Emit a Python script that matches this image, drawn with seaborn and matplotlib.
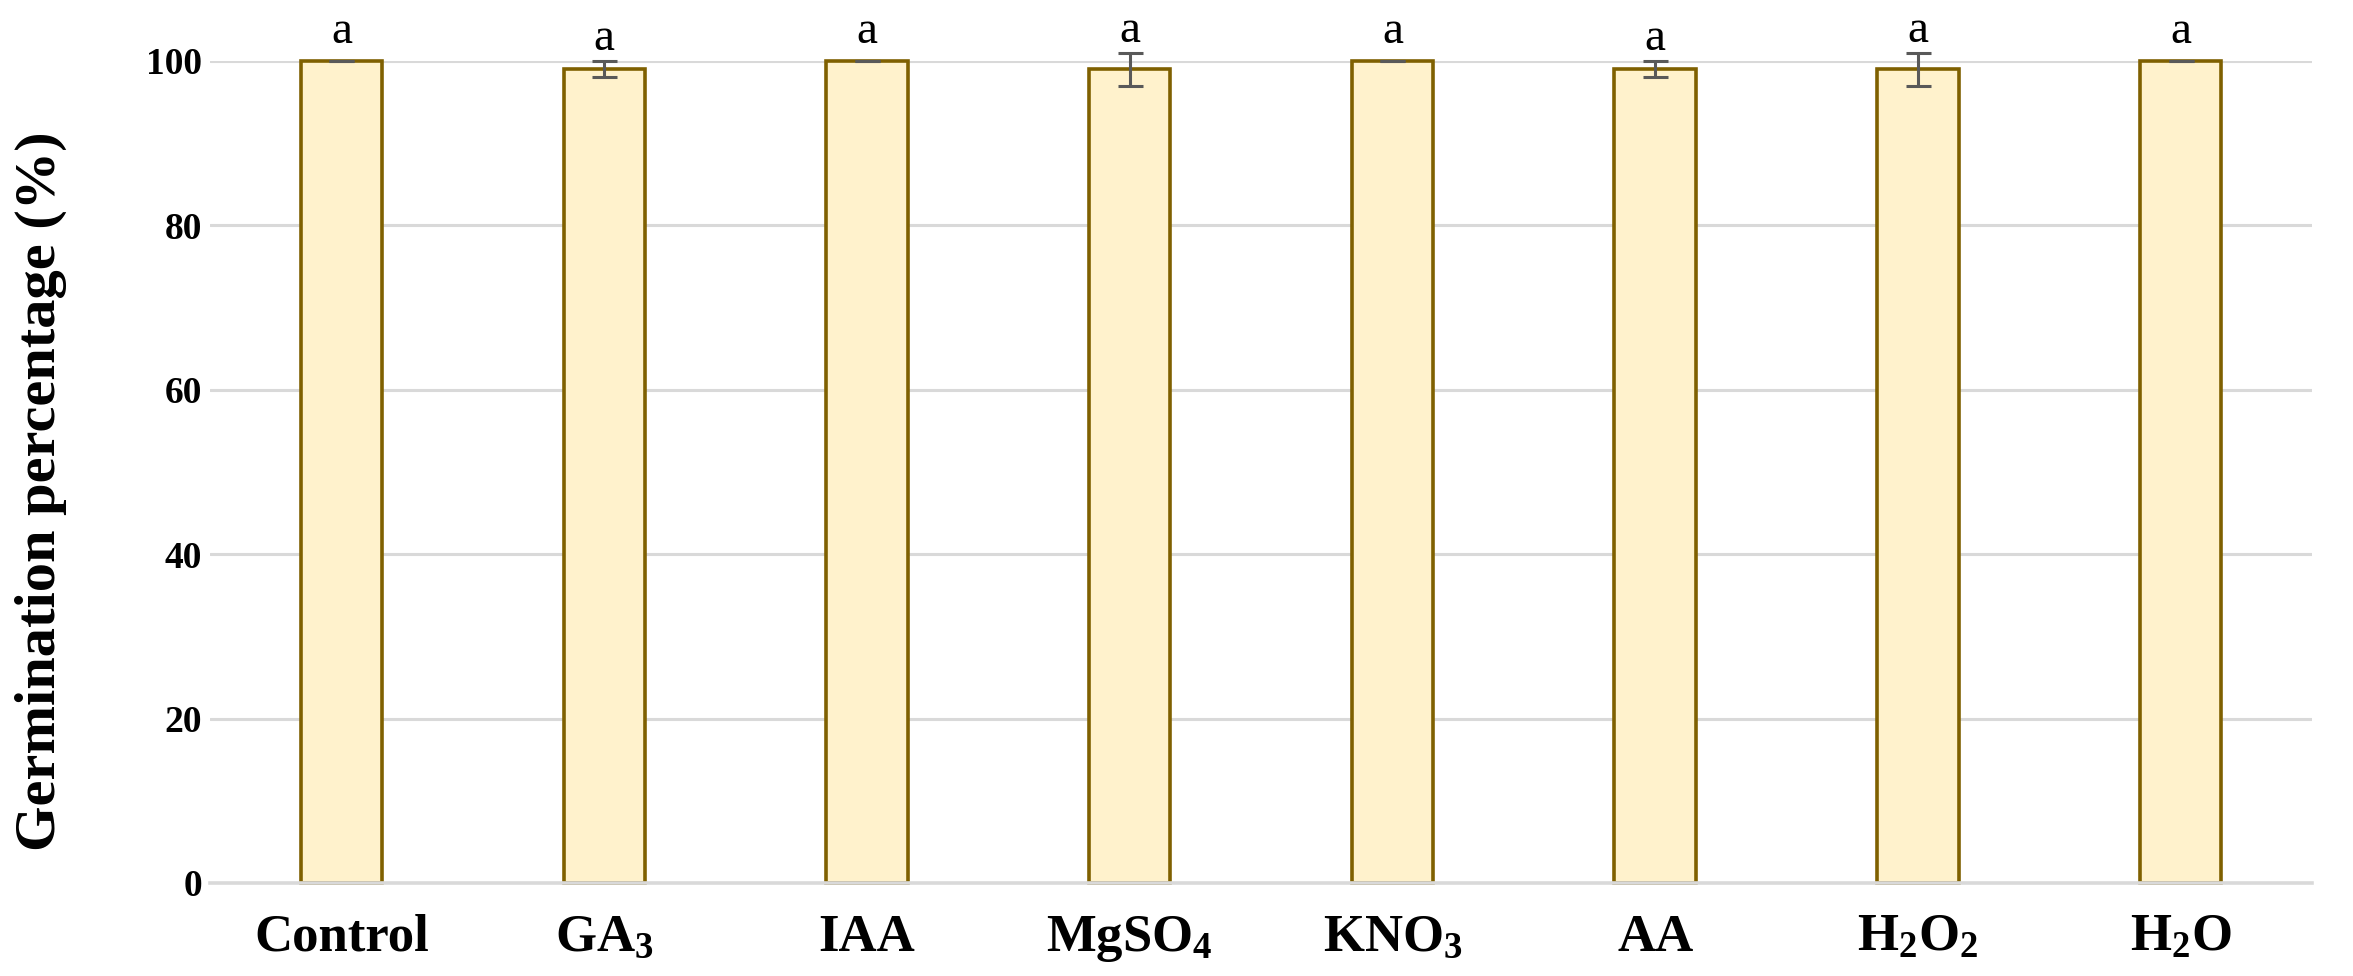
import matplotlib
matplotlib.use("Agg")
import matplotlib.pyplot as plt
import seaborn as sns
import numpy as np
import pandas as pd

categories = ["Control", "GA$_{\\mathbf{3}}$", "IAA", "MgSO$_{\\mathbf{4}}$", "KNO$_{\\mathbf{3}}$",
              "AA", "H$_{\\mathbf{2}}$O$_{\\mathbf{2}}$", "H$_{\\mathbf{2}}$O"]
germination = [100, 99, 100, 99, 100, 99, 99, 100]
errors = [0, 1, 0, 2, 0, 1, 2, 0]
letters = ["a", "a", "a", "a", "a", "a", "a", "a"]
yticks = [0, 20, 40, 60, 80, 100]

sns.set_theme(style="white")
plt.rcParams["font.family"] = ["Liberation Serif", "DejaVu Serif"]
plt.rcParams["mathtext.fontset"] = "custom"
plt.rcParams["mathtext.rm"] = "Liberation Serif"
plt.rcParams["mathtext.bf"] = "Liberation Serif:bold"
plt.rcParams["mathtext.it"] = "Liberation Serif:italic"
plt.rcParams["text.color"] = "black"
plt.rcParams["axes.labelcolor"] = "black"
plt.rcParams["xtick.color"] = "black"
plt.rcParams["ytick.color"] = "black"

df = pd.DataFrame({"Treatment": categories, "Germination": germination})

fig = plt.figure(figsize=(23.53, 9.76), dpi=100)
ax = fig.add_axes([0.0893, 0.0953, 0.8933, 0.8422])

sns.barplot(data=df, x="Treatment", y="Germination", ax=ax, color="#fff2cc",
            edgecolor="#7f6000", linewidth=2.6, width=0.31, errorbar=None,
            saturation=1)

pos = np.arange(len(categories))
ax.errorbar(pos, germination, yerr=errors, fmt="none", ecolor="#595959",
            elinewidth=2.2, capsize=9, capthick=2.2, clip_on=False, zorder=5)

for x, v, e, t in zip(pos, germination, errors, letters):
    ax.annotate(t, xy=(x, v + e), xytext=(0, 8 if e else 13), textcoords="offset points",
                ha="center", va="baseline", fontsize=34, color="black",
                annotation_clip=False)

for p in ax.patches:
    p.set_clip_on(False)

ax.set_ylim(0, 100)
ax.set_xlim(-0.5, len(categories) - 0.5)
ax.set_yticks(yticks)
ax.set_yticklabels([str(v) for v in yticks], fontsize=27, fontweight="bold")
ax.set_xticks(pos)
ax.set_xticklabels(categories, fontsize=38, fontweight="bold")
ax.tick_params(axis="both", length=0)
ax.tick_params(axis="y", pad=6)
ax.tick_params(axis="x", pad=22)

ax.yaxis.grid(True, color="#d9d9d9", linewidth=2.2)
ax.set_axisbelow(True)
for s in ["top", "right", "left"]:
    ax.spines[s].set_visible(False)
ax.spines["bottom"].set_color("#d9d9d9")
ax.spines["bottom"].set_linewidth(2.6)

ax.set_xlabel("")
ax.set_ylabel("Germination percentage (%)", fontsize=42, fontweight="bold")
ax.yaxis.set_label_coords(-0.068, 0.477)

fig.savefig("out.png", dpi=100, facecolor="white")
